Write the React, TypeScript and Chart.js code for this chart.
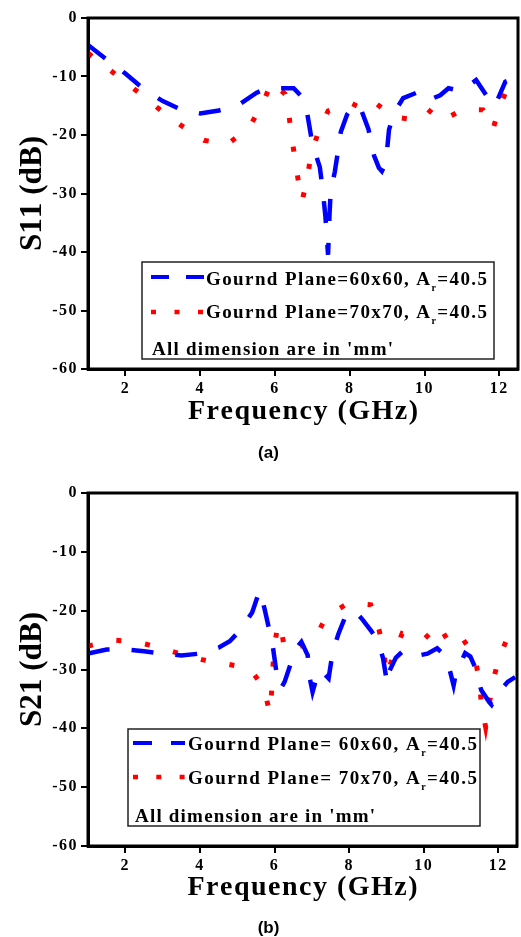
import React, { useEffect, useRef } from "react";
import { Chart, registerables } from "chart.js";

Chart.register(...registerables);

const X_TICKS = [2, 4, 6, 8, 10, 12];
const Y_TICKS = [-60, -50, -40, -30, -20, -10, 0];

// (a) S11, ground plane 60x60
const s11Freq60 = [1.0, 1.5, 2.0, 2.5, 3.0, 3.5, 4.0, 4.5, 5.0, 5.5, 5.8, 6.0, 6.5, 6.8, 6.9, 7.0, 7.1, 7.2, 7.28, 7.35, 7.42, 7.46, 7.49, 7.6, 7.68, 7.76, 7.93, 8.1, 8.3, 8.5, 8.65, 8.78, 8.86, 8.93, 9.0, 9.05, 9.17, 9.3, 9.43, 9.93, 10.2, 10.42, 10.64, 10.9, 11.2, 11.38, 11.67, 11.8, 11.95, 12.16, 12.2];
const s11Db60 = [-4.6, -7.1, -9.5, -12.2, -14.2, -15.7, -16.3, -15.8, -15.0, -12.8, -12.0, -12.0, -12.0, -14.0, -17.7, -21.5, -23.5, -25.5, -29.5, -34.0, -40.5, -33.5, -29.7, -26.3, -23.0, -19.5, -16.5, -14.8, -15.6, -19.0, -23.5, -25.6, -26.2, -25.3, -22.5, -19.1, -16.6, -15.0, -13.7, -12.4, -13.8, -13.2, -12.0, -12.4, -11.5, -10.6, -13.4, -15.0, -14.0, -10.9, -10.8];

// (a) S11, ground plane 70x70
const s11Freq70 = [1.0, 1.67, 2.27, 2.87, 3.5, 4.1, 4.73, 5.31, 5.67, 5.91, 6.27, 6.38, 6.46, 6.55, 6.64, 6.73, 6.87, 6.96, 7.16, 7.42, 7.7, 8.05, 8.35, 8.65, 9.15, 9.61, 10.08, 10.44, 11.04, 11.56, 11.83, 12.02, 12.27];
const s11Db70 = [-6.0, -9.3, -12.3, -15.4, -18.4, -20.9, -21.6, -18.7, -14.7, -10.9, -13.0, -16.9, -20.9, -24.7, -28.5, -31.2, -27.2, -23.4, -19.5, -15.9, -15.2, -14.6, -15.5, -14.3, -16.9, -17.3, -15.6, -17.6, -15.6, -15.7, -19.0, -15.0, -11.2];

// (b) S21, ground plane 60x60
const s21Freq60 = [1.0, 1.5, 2.0, 2.5, 3.0, 3.5, 4.0, 4.5, 4.8, 5.1, 5.4, 5.55, 5.6, 5.73, 5.85, 5.95, 6.03, 6.09, 6.17, 6.27, 6.43, 6.6, 6.72, 6.89, 6.93, 7.02, 7.1, 7.16, 7.3, 7.45, 7.56, 7.71, 7.93, 8.09, 8.2, 8.37, 8.6, 8.78, 8.91, 9.02, 9.07, 9.25, 9.42, 9.58, 9.87, 10.1, 10.36, 10.5, 10.65, 10.8, 10.86, 11.11, 11.25, 11.39, 11.54, 11.75, 11.82, 12.0, 12.25, 12.45];
const s21Db60 = [-27.3, -26.6, -26.6, -26.9, -27.3, -27.6, -27.3, -26.3, -25.2, -23.2, -20.3, -17.5, -16.6, -19.6, -23.0, -25.9, -29.5, -32.4, -33.2, -32.1, -29.1, -26.2, -25.3, -27.6, -31.0, -33.8, -32.0, -30.1, -30.5, -31.5, -27.0, -24.0, -20.5, -20.0, -20.4, -21.6, -23.5, -25.3, -28.1, -32.4, -30.4, -28.0, -27.0, -26.6, -27.6, -27.3, -26.4, -27.2, -28.9, -32.7, -30.7, -27.2, -27.8, -29.8, -33.5, -35.5, -36.0, -34.0, -32.1, -31.3];

// (b) S21, ground plane 70x70
const s21Freq70 = [1.0, 1.69, 2.29, 2.89, 3.49, 4.11, 4.74, 5.33, 5.71, 5.87, 5.92, 5.95, 6.0, 6.09, 6.18, 6.27, 6.53, 6.8, 7.07, 7.39, 7.98, 8.58, 8.8, 8.93, 9.0, 9.17, 9.42, 10.0, 10.4, 10.74, 11.07, 11.38, 11.49, 11.55, 11.66, 11.75, 11.84, 12.0, 12.25, 12.45];
const s21Db70 = [-26.0, -25.0, -25.3, -26.2, -27.4, -28.4, -29.1, -29.8, -33.0, -37.3, -34.0, -30.1, -26.0, -22.2, -23.0, -26.7, -26.4, -25.8, -24.9, -21.0, -18.7, -19.0, -23.2, -27.0, -31.0, -27.9, -23.9, -24.9, -22.4, -26.1, -25.0, -28.1, -32.1, -36.1, -39.8, -36.2, -32.4, -28.4, -24.5, -24.0];

const legendS11 = ["Gournd Plane=60x60, A", "Gournd Plane=70x70, A"];
const legendS21 = ["Gournd Plane= 60x60, A", "Gournd Plane= 70x70, A"];
const legendSub = "r";
const legendSuffix = "=40.5";
const noteText = "All dimension are in 'mm'";
const xTitle = "Frequency (GHz)";

const serif = "'Liberation Serif', 'Times New Roman', serif";
const sans = "'Liberation Sans', Arial, sans-serif";

type Glyph = { ch: string; font: string; dy: number };

function glyphsOf(text: string, font: string, dy = 0): Glyph[] {
  return Array.from(text).map((ch) => ({ ch, font, dy }));
}

function drawFitted(ctx: CanvasRenderingContext2D, glyphs: Glyph[], x: number, y: number, targetW: number, align: "left" | "center") {
  ctx.textAlign = "left";
  ctx.textBaseline = "alphabetic";
  const widths = glyphs.map((g) => {
    ctx.font = g.font;
    return ctx.measureText(g.ch).width;
  });
  const nat = widths.reduce((s, w) => s + w, 0);
  const n = glyphs.length;
  let sp = n > 1 ? (targetW - nat) / (n - 1) : 0;
  let sx = 1;
  if (sp < 0) {
    sx = targetW / nat;
    sp = 0;
  }
  const x0 = align === "center" ? x - targetW / 2 : x;
  ctx.save();
  ctx.translate(x0, y);
  ctx.scale(sx, 1);
  let cx = 0;
  glyphs.forEach((g, i) => {
    ctx.font = g.font;
    ctx.fillText(g.ch, cx, g.dy);
    cx += widths[i] + sp;
  });
  ctx.restore();
}

type PanelCfg = {
  top: number;
  height: number;
  plotTop: number;
  plotBottom: number;
  plotRight: number;
  f60: number[];
  d60: number[];
  f70: number[];
  d70: number[];
  yTitle: string;
  legend: string[];
  box: { x: number; y: number; w: number; h: number };
  rowBase: number[];
  rowLineY: number[];
  sampleX: [number, number];
  blueDash: number[];
  redDash: number[];
  textX: number;
  textW: number;
  noteX: number;
  noteW: number;
  label: string;
  labelY: number;
  xTitleBase: number;
};

const W = 521;

const cfgA: PanelCfg = {
  top: 0, height: 468, plotTop: 18, plotBottom: 369, plotRight: 518,
  f60: s11Freq60, d60: s11Db60, f70: s11Freq70, d70: s11Db70,
  yTitle: "S11 (dB)", legend: legendS11,
  box: { x: 142, y: 262, w: 352, h: 97 },
  rowBase: [285, 318, 355], rowLineY: [277, 312],
  sampleX: [151, 204], blueDash: [18, 17], redDash: [5, 18.5],
  textX: 206, textW: 281, noteX: 152, noteW: 241,
  label: "(a)", labelY: 453, xTitleBase: 419,
};

const cfgB: PanelCfg = {
  top: 468, height: 469, plotTop: 25, plotBottom: 378, plotRight: 517,
  f60: s21Freq60, d60: s21Db60, f70: s21Freq70, d70: s21Db70,
  yTitle: "S21 (dB)", legend: legendS21,
  box: { x: 128, y: 261, w: 352, h: 97 },
  rowBase: [282, 316, 354], rowLineY: [275, 309],
  sampleX: [133, 185], blueDash: [19, 19], redDash: [5, 18.3],
  textX: 188, textW: 289, noteX: 135, noteW: 240,
  label: "(b)", labelY: 460, xTitleBase: 427,
};

function Panel({ cfg }: { cfg: PanelCfg }) {
  const ref = useRef<HTMLCanvasElement>(null);
  useEffect(() => {
    const canvas = ref.current;
    if (!canvas) return;
    const H = cfg.height;
    const overlay = {
      id: "overlay",
      beforeDraw(chart: any) {
        chart.ctx.letterSpacing = "1.5px";
      },
      afterDraw(chart: any) {
        const ctx: CanvasRenderingContext2D = chart.ctx;
        const a = chart.chartArea;
        ctx.save();
        (ctx as any).letterSpacing = "0px";
        ctx.setLineDash([]);
        ctx.strokeStyle = "#000";
        ctx.lineWidth = 3;
        ctx.strokeRect(a.left, a.top, a.right - a.left, a.bottom - a.top);

        // legend box
        const b = cfg.box;
        ctx.fillStyle = "#fff";
        ctx.fillRect(b.x, b.y, b.w, b.h);
        ctx.strokeStyle = "#222";
        ctx.lineWidth = 1.5;
        ctx.strokeRect(b.x, b.y, b.w, b.h);

        // samples
        ctx.lineCap = "butt";
        ctx.strokeStyle = "#0000ff";
        ctx.lineWidth = 4;
        ctx.setLineDash(cfg.blueDash);
        ctx.beginPath();
        ctx.moveTo(cfg.sampleX[0], cfg.rowLineY[0]);
        ctx.lineTo(cfg.sampleX[1], cfg.rowLineY[0]);
        ctx.stroke();
        ctx.strokeStyle = "#ff0000";
        ctx.lineWidth = 4.5;
        ctx.setLineDash(cfg.redDash);
        ctx.beginPath();
        ctx.moveTo(cfg.sampleX[0], cfg.rowLineY[1]);
        ctx.lineTo(cfg.sampleX[1], cfg.rowLineY[1]);
        ctx.stroke();
        ctx.setLineDash([]);

        // legend texts
        ctx.fillStyle = "#000";
        const lf = `bold 19px ${serif}`;
        const sf = `bold 10px ${serif}`;
        for (let i = 0; i < 2; i++) {
          const gl = [...glyphsOf(cfg.legend[i], lf), ...glyphsOf(legendSub, sf, 6), ...glyphsOf(legendSuffix, lf)];
          drawFitted(ctx, gl, cfg.textX, cfg.rowBase[i], cfg.textW, "left");
        }
        drawFitted(ctx, glyphsOf(noteText, lf), cfg.noteX, cfg.rowBase[2], cfg.noteW, "left");

        // x title
        const cxPlot = (a.left + a.right) / 2;
        drawFitted(ctx, glyphsOf(xTitle, `bold 28px ${serif}`), cxPlot, cfg.xTitleBase, 230, "center");

        // y title
        ctx.save();
        ctx.translate(41, (a.top + a.bottom) / 2);
        ctx.rotate(-Math.PI / 2);
        drawFitted(ctx, glyphsOf(cfg.yTitle, `bold 32px ${serif}`), 0, 0, 115, "center");
        ctx.restore();

        // panel label
        ctx.font = `bold 17px ${sans}`;
        ctx.textAlign = "center";
        ctx.textBaseline = "middle";
        ctx.fillText(cfg.label, 268.5, cfg.labelY);
        ctx.restore();
      },
    };

    const tickFont = { family: serif, weight: "bold" as const, size: 16 };
    const chart = new Chart(canvas, {
      type: "line",
      data: {
        datasets: [
          {
            data: cfg.f60.map((x, i) => ({ x, y: cfg.d60[i] })),
            borderColor: "#0000ff",
            borderWidth: 4.5,
            borderDash: [22, 22],
            borderCapStyle: "butt",
            pointRadius: 0,
            tension: 0,
            fill: false,
          },
          {
            data: cfg.f70.map((x, i) => ({ x, y: cfg.d70[i] })),
            borderColor: "#ff0000",
            borderWidth: 5,
            borderDash: [5, 24],
            borderCapStyle: "butt",
            pointRadius: 0,
            tension: 0,
            fill: false,
          },
        ],
      },
      options: {
        responsive: false,
        animation: false,
        devicePixelRatio: 1,
        events: [],
        layout: { padding: { top: cfg.plotTop, right: W - cfg.plotRight, left: 0, bottom: 0 } },
        plugins: { legend: { display: false }, tooltip: { enabled: false }, title: { display: false } },
        scales: {
          x: {
            type: "linear",
            min: 1,
            max: 12.5,
            afterBuildTicks: (s: any) => {
              s.ticks = X_TICKS.map((v) => ({ value: v }));
            },
            afterFit: (s: any) => {
              s.height = H - cfg.plotBottom;
            },
            grid: { drawOnChartArea: false, drawTicks: true, tickLength: 7, lineWidth: 2, color: "#000" },
            border: { display: true, width: 3, color: "#000" },
            ticks: { font: tickFont, color: "#000", padding: 3, maxRotation: 0, autoSkip: false },
          },
          y: {
            type: "linear",
            min: -60,
            max: 0,
            afterBuildTicks: (s: any) => {
              s.ticks = Y_TICKS.map((v) => ({ value: v }));
            },
            afterFit: (s: any) => {
              s.width = 88;
            },
            grid: { drawOnChartArea: false, drawTicks: true, tickLength: 7, lineWidth: 2, color: "#000" },
            border: { display: true, width: 3, color: "#000" },
            ticks: { font: tickFont, color: "#000", padding: 3, autoSkip: false },
          },
        },
      },
      plugins: [overlay],
    } as any);
    return () => chart.destroy();
  }, [cfg]);
  return (
    <canvas
      ref={ref}
      width={W}
      height={cfg.height}
      style={{ position: "absolute", left: 0, top: cfg.top, width: W, height: cfg.height, display: "block" }}
    />
  );
}

export default function App() {
  return (
    <div style={{ position: "absolute", left: 0, top: 0, width: W, height: 937, background: "#fff" }}>
      <Panel cfg={cfgA} />
      <Panel cfg={cfgB} />
    </div>
  );
}
